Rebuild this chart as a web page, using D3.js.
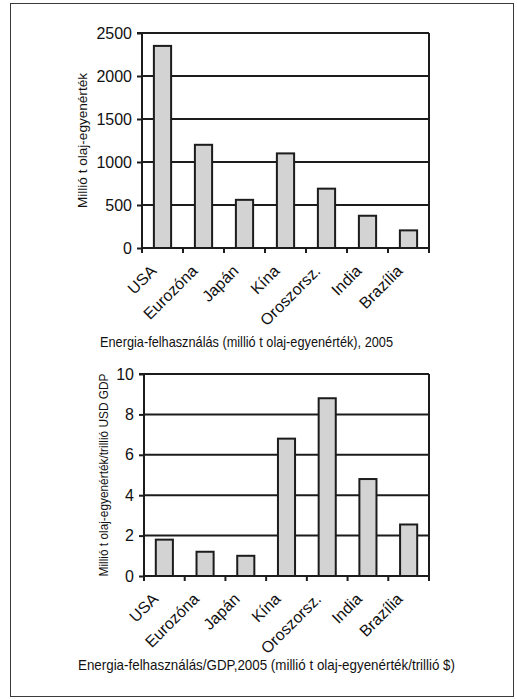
<!DOCTYPE html>
<html>
<head>
<meta charset="utf-8">
<script src="https://cdn.jsdelivr.net/npm/d3@7"></script>
<style>
  html, body { margin: 0; padding: 0; background: #fff; }
  svg { display: block; font-family: "Liberation Sans", Arial, sans-serif; }
</style>
</head>
<body>
<svg id="chart" width="517" height="699"></svg>
<script>
// Countries shown on both panels
const categories = ["USA", "Eurozóna", "Japán", "Kína", "Oroszorsz.", "India", "Brazília"];

// Energy use, million tonnes of oil equivalent, 2005
const energyUse = [2350, 1200, 560, 1100, 690, 375, 205];
const energyTicks = [0, 500, 1000, 1500, 2000, 2500];

// Energy use per GDP, million toe per trillion USD, 2005
const energyPerGdp = [1.8, 1.2, 1.0, 6.8, 8.8, 4.8, 2.55];
const gdpTicks = [0, 2, 4, 6, 8, 10];

const svg = d3.select("#chart");
const ink = "#1c1c1c";

// outer frame around the figure
svg.append("rect")
  .attr("x", 10.5).attr("y", 3.5)
  .attr("width", 503).attr("height", 693)
  .attr("fill", "none").attr("stroke", "#3a3a3a").attr("stroke-width", 1);

function panel(opts) {
  const { left, right, top, bottom, values, ticks, yMax, yTitle, yTitleX, yTitleLen, xTitle, xTitleX, xTitleY, xTitleLen } = opts;
  const g = svg.append("g");

  const x = d3.scaleBand().domain(categories).range([left, right]).paddingInner(0.58).paddingOuter(0.29);
  const y = d3.scaleLinear().domain([0, yMax]).range([bottom, top]);

  // horizontal gridlines
  g.append("g").selectAll("line").data(ticks.filter(t => t > 0)).join("line")
    .attr("x1", left).attr("x2", right)
    .attr("y1", d => y(d)).attr("y2", d => y(d))
    .attr("stroke", ink).attr("stroke-width", 2);

  // right border of the plot
  g.append("line")
    .attr("x1", right).attr("x2", right).attr("y1", y(yMax)).attr("y2", bottom)
    .attr("stroke", ink).attr("stroke-width", 2);

  // bars
  g.append("g").selectAll("rect").data(values).join("rect")
    .attr("x", (d, i) => x(categories[i]))
    .attr("y", d => y(d))
    .attr("width", x.bandwidth())
    .attr("height", d => bottom - y(d))
    .attr("fill", "#d3d3d3")
    .attr("stroke", ink).attr("stroke-width", 2);

  // y axis
  const yAxis = d3.axisLeft(y).tickValues(ticks).tickSize(5).tickPadding(5).tickFormat(d3.format("d"));
  const ya = g.append("g").attr("transform", `translate(${left},0)`).call(yAxis);
  ya.select(".domain").attr("stroke", ink).attr("stroke-width", 2).attr("d", `M-5,${top}H0V${bottom}`);
  ya.selectAll(".tick line").attr("stroke", ink).attr("stroke-width", 2);
  ya.selectAll(".tick text").attr("font-size", 16).attr("fill", "#111")
    .attr("font-family", "'Liberation Sans', Arial, sans-serif");

  // x axis: ticks on category boundaries
  const step = x.step();
  const bounds = d3.range(categories.length + 1).map(i => left + i * step);
  g.append("line").attr("x1", left).attr("x2", right).attr("y1", bottom).attr("y2", bottom)
    .attr("stroke", ink).attr("stroke-width", 2);
  g.append("g").selectAll("line").data(bounds).join("line")
    .attr("x1", d => d).attr("x2", d => d).attr("y1", bottom).attr("y2", bottom + 5)
    .attr("stroke", ink).attr("stroke-width", 2);

  // rotated category labels
  g.append("g").selectAll("text").data(categories).join("text")
    .attr("transform", d => `translate(${x(d) + x.bandwidth() / 2 - 5},${bottom + 24}) rotate(-45)`)
    .attr("text-anchor", "end")
    .attr("font-size", 16).attr("fill", "#111")
    .text(d => d);

  // y axis title
  g.append("text")
    .attr("transform", `translate(${yTitleX},${(top + bottom) / 2}) rotate(-90)`)
    .attr("text-anchor", "middle")
    .attr("font-size", 13).attr("fill", "#111")
    .attr("textLength", yTitleLen).attr("lengthAdjust", "spacingAndGlyphs")
    .text(yTitle);

  // x axis title
  g.append("text")
    .attr("x", xTitleX).attr("y", xTitleY)
    .attr("text-anchor", "middle")
    .attr("font-size", 15).attr("fill", "#111")
    .attr("textLength", xTitleLen).attr("lengthAdjust", "spacingAndGlyphs")
    .text(xTitle);
}

panel({
  left: 142, right: 429, top: 33, bottom: 248,
  values: energyUse, ticks: energyTicks, yMax: 2500,
  yTitle: "Millió t olaj-egyenérték", yTitleX: 87, yTitleLen: 135,
  xTitle: "Energia-felhasználás (millió t olaj-egyenérték), 2005",
  xTitleX: 246.5, xTitleY: 347, xTitleLen: 293
});

panel({
  left: 144, right: 429, top: 374, bottom: 576,
  values: energyPerGdp, ticks: gdpTicks, yMax: 10,
  yTitle: "Millió t olaj-egyenérték/trillió USD GDP", yTitleX: 108, yTitleLen: 203,
  xTitle: "Energia-felhasználás/GDP,2005 (millió t olaj-egyenérték/trillió $)",
  xTitleX: 266.5, xTitleY: 670, xTitleLen: 377
});
</script>
</body>
</html>
